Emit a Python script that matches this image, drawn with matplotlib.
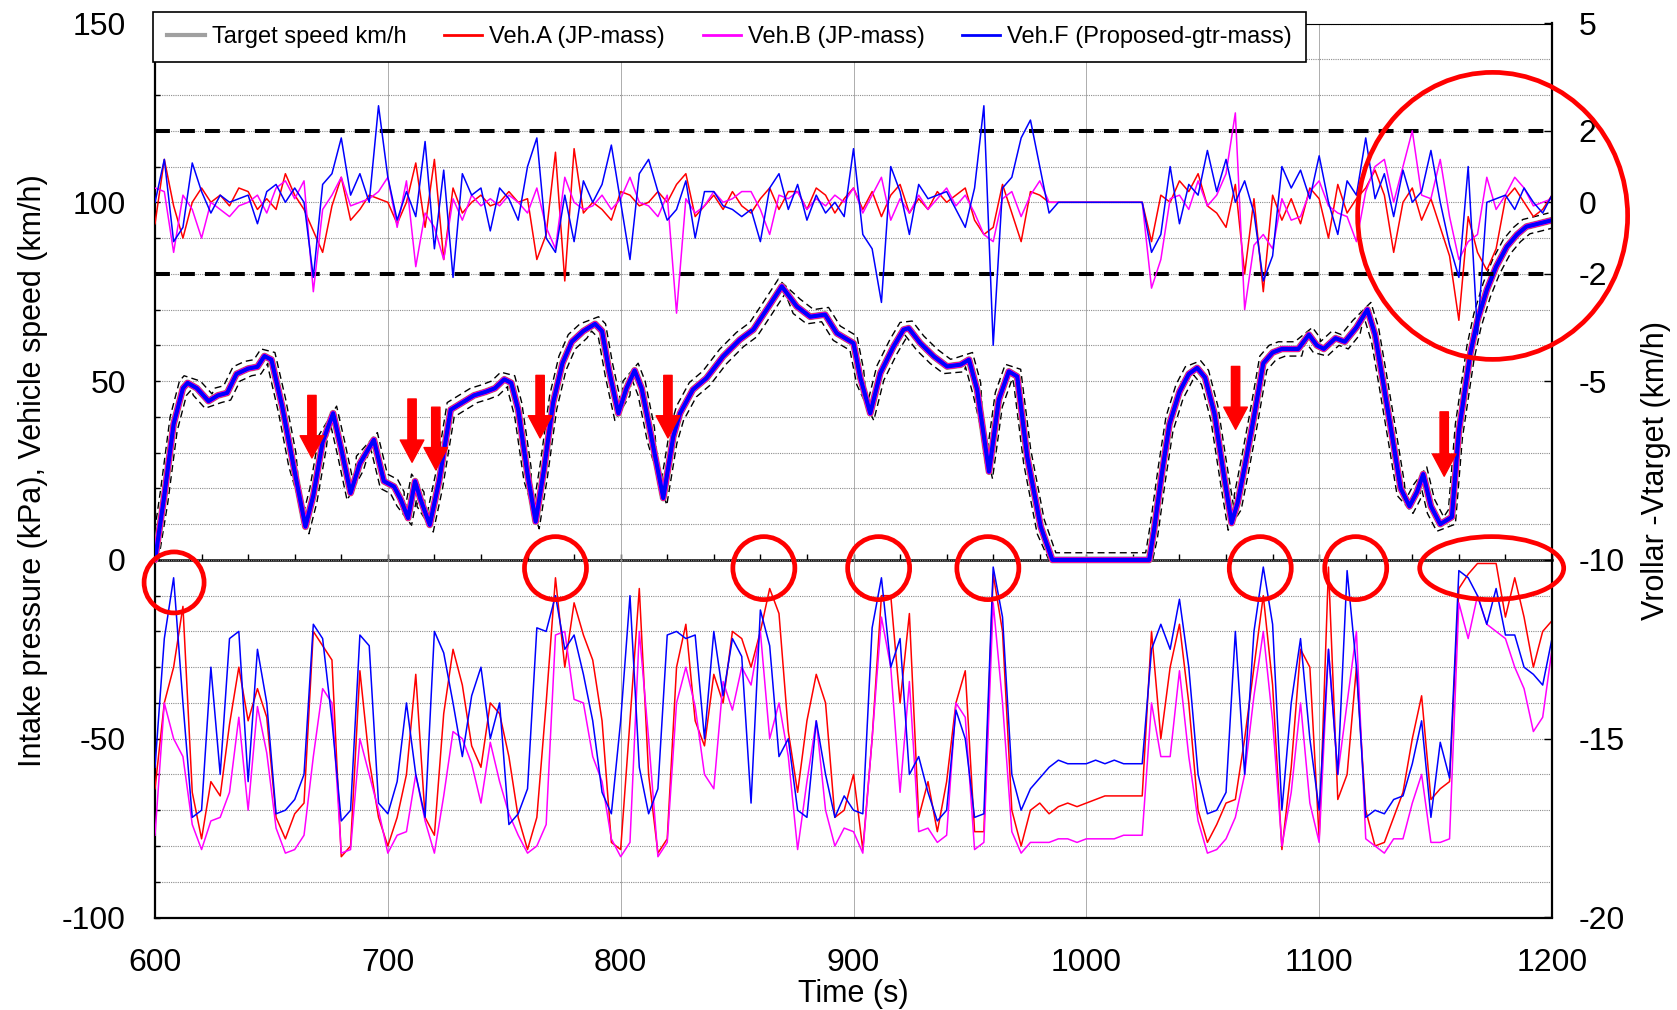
import numpy as np
import matplotlib
matplotlib.use('Agg')
import matplotlib.pyplot as plt
from matplotlib.lines import Line2D
from matplotlib.patches import Ellipse, FancyArrowPatch
from matplotlib.transforms import ScaledTranslation

plt.rcParams['font.family'] = ['Liberation Sans', 'DejaVu Sans']
plt.rcParams['axes.unicode_minus'] = False

# time base of the noisy signals (4 s steps, 600..1200)
t4 = np.arange(600, 1201, 4)

# target speed (km/h), read at the turning points of the trace
speed_t = [600, 604, 608, 612, 614, 618, 623, 627, 631, 635, 640, 644, 647, 650, 654.6, 659,
           664.6, 668, 672, 676.5, 680, 684, 688, 694, 698.3, 702.7, 705.5, 708.7, 711.7, 714,
           718, 722, 727, 732, 737, 742, 746, 750, 753, 756, 760, 763.5, 767, 771, 775, 779,
           784, 789, 792, 795, 799, 802.5, 806, 809, 813, 818.3, 822.6, 825.5, 831, 836.8, 844,
           851.2, 857, 862.7, 869.2, 875.6, 881.4, 887.8, 892.8, 900, 902.9, 907.2, 911.5, 917.2,
           921.5, 923.7, 928.7, 934.5, 940.2, 946, 949.6, 953.1, 958.2, 962.4, 966.7, 970.3,
           974.6, 980.4, 985.4, 1027, 1029, 1032.4, 1035.7, 1040, 1044, 1047.6, 1051, 1055, 1059,
           1062.4, 1065, 1068, 1072, 1076, 1080, 1084, 1088, 1091, 1095.6, 1099, 1102, 1107,
           1111, 1116, 1120.7, 1124, 1127.4, 1132, 1135, 1138.8, 1142, 1144.7, 1148, 1152, 1157,
           1160, 1165, 1168, 1172, 1176, 1180.6, 1185, 1189, 1194, 1200]
speed_v = [0, 18, 38, 48, 49.5, 48, 44.4, 46, 46.7, 52, 53.5, 54, 57, 56, 43, 28,
           9.3, 18, 33, 41, 31, 18.7, 27, 33.6, 22, 20.5, 17, 11.7, 22, 17,
           9.8, 22, 42, 44, 46, 47, 48, 50.5, 49.5, 42, 24, 10.7, 25, 44, 55, 61,
           64, 66, 64, 53, 41, 48, 53, 48, 35, 17.3, 34.5, 41, 47.6, 50.8, 56.9,
           61.6, 64.4, 70, 76.5, 70.9, 68, 68.6, 63.4, 60.6, 51, 41, 52.2, 59.7,
           64.4, 64.8, 60.6, 56.9, 54.1, 54.6, 56, 47.6, 24.7, 44.8, 52.7, 51.3,
           28.9, 9.3, 0, 0, 8, 24, 38, 47, 52, 53.7, 51, 41, 24,
           10.3, 16, 26, 40, 55, 58, 59, 59, 59, 63, 60, 59, 62,
           61, 65, 70, 63, 50, 32, 20, 15, 19, 24, 15, 10, 12,
           36, 58, 67, 75.5, 82, 87.6, 91, 93.2, 94, 95]

# Vroller - Vtarget (km/h), right axis
dev_a = [-0.6, 1.2, -0.1, -1.0, 0.0, 0.4, 0.0, 0.2, -0.1, 0.4,
         0.3, -0.2, 0.1, -0.2, 0.8, 0.2, -0.2, -0.8, -1.4, -0.1,
         0.7, -0.5, -0.2, 0.2, 0.1, 0.0, -0.6, 0.0, 1.1, -0.7,
         1.2, -1.6, 0.4, -0.3, 0.0, 0.2, -0.1, 0.0, 0.3, 0.0,
         0.1, -1.6, -0.9, 1.4, -2.2, 1.5, -0.3, 0.0, -0.2, -0.5,
         0.3, 0.2, -0.1, 0.0, 0.3, 0.0, 0.5, 0.8, -0.4, -0.1,
         0.2, -0.2, 0.3, -0.1, -0.3, 0.1, 0.4, -0.2, 0.3, 0.3,
         -0.2, 0.4, 0.2, -0.3, 0.1, 0.4, -0.2, 0.3, -0.4, 0.2,
         0.5, -0.3, 0.1, -0.2, 0.3, 0.0, 0.2, 0.4, -0.5, -0.9,
         -0.7, 0.5, -0.3, -1.1, 0.3, 0.2, 0.0, 0.0, 0.0, 0.0,
         0.0, 0.0, 0.0, 0.0, 0.0, 0.0, 0.0, -1.1, 0.2, 0.0,
         0.6, 0.3, 0.8, -0.1, -0.3, -0.7, 0.5, -2.0, 0.1, -2.5,
         0.2, -0.5, 0.1, -0.6, 0.4, 0.1, -1.0, 0.5, -0.3, 0.1,
         0.4, 0.9, 0.2, -1.4, 0.0, 0.4, -0.5, 0.1, -0.7, -1.5,
         -3.3, -0.4, -1.4, -1.9, -1.3, 0.1, 0.4, 0.0, -0.4, -0.2,
         0.2]
dev_b = [0.4, 0.3, -1.4, 0.2, -0.2, -1.0, 0.0, -0.2, -0.4, -0.1,
         0.0, 0.2, -0.3, 0.4, 0.6, 0.1, 0.6, -2.5, -0.2, 0.2,
         0.7, -0.1, 0.0, 0.1, 0.3, 0.7, -0.7, 0.6, -1.8, -0.3,
         -0.7, -1.6, 0.1, -0.5, 0.2, -0.1, 0.1, -0.1, 0.2, 0.0,
         -0.3, 0.4, -0.7, -1.3, 0.7, 0.0, -0.2, -0.1, 0.2, -0.2,
         0.1, 0.7, 0.0, -0.1, -0.4, 0.2, -3.1, 0.1, -0.3, -0.1,
         0.3, 0.0, 0.1, 0.3, 0.3, -0.2, -0.9, 0.2, 0.1, 0.3,
         -0.2, 0.1, -0.1, 0.2, 0.0, 0.4, -0.3, 0.2, 0.7, -0.5,
         0.1, -0.3, 0.2, -0.2, 0.1, 0.4, -0.1, 0.2, -0.3, -0.9,
         -1.1, 0.1, 0.3, -0.4, 0.2, 0.6, 0.0, 0.0, 0.0, 0.0,
         0.0, 0.0, 0.0, 0.0, 0.0, 0.0, 0.0, -2.4, -1.6, 0.1,
         0.2, -0.2, 0.6, -0.1, 0.2, 0.8, 2.5, -3.0, -1.2, -0.9,
         -1.3, 0.1, -0.5, -0.4, 0.3, 0.6, -0.1, -0.3, -0.4, -1.1,
         0.3, 1.0, 1.2, 0.0, 1.0, 2.0, 0.2, 0.1, 1.2, -0.4,
         -1.6, -1.1, -0.9, 0.7, -0.2, 0.2, 0.7, 0.4, -0.1, 0.0,
         0.1]
dev_f = [0.0, 1.2, -1.1, -0.7, 1.1, 0.3, -0.3, 0.2, 0.0, 0.1,
         0.2, -0.6, 0.3, 0.5, 0.0, 0.4, 0.0, -2.1, 0.5, 0.8,
         1.8, 0.2, 0.8, 0.0, 2.7, 0.7, -0.5, 0.3, -0.4, 1.7,
         -1.3, 0.9, -2.1, 0.8, 0.2, 0.4, -0.8, 0.4, 0.1, -0.5,
         1.0, 1.8, -1.0, -1.4, 0.2, -1.1, 0.6, 0.0, 0.5, 1.6,
         0.0, -1.6, 0.8, 1.2, 0.3, -0.5, -0.2, 0.6, -1.0, 0.3,
         0.3, -0.1, -0.2, -0.4, -0.2, -1.1, 0.4, 0.8, -0.2, 0.5,
         -0.5, 0.2, -0.3, 0.0, -0.4, 1.5, -0.9, -1.3, -2.8, 1.0,
         0.3, -0.9, 0.5, 0.1, 0.2, 0.3, -0.2, -0.7, 0.4, 2.7,
         -4.0, 0.4, 0.7, 1.8, 2.3, 1.0, -0.3, 0.0, 0.0, 0.0,
         0.0, 0.0, 0.0, 0.0, 0.0, 0.0, 0.0, -1.4, -0.9, 1.0,
         -0.6, 0.5, 0.2, 1.45, 0.3, 1.2, 0.0, 0.6, -0.3, -2.2,
         -1.5, 1.0, 0.4, 0.9, 0.1, 1.3, 0.0, -0.9, 0.6, 0.2,
         1.8, 0.1, 0.8, -0.4, 0.9, 0.0, 0.3, 1.45, 0.0, -1.2,
         -2.1, 1.0, -3.7, 0.0, 0.1, 0.2, -0.2, 0.4, 0.0, -0.3,
         0.2]

# intake pressure (kPa), left axis
press_a = [-64, -40, -30, -13, -65, -78, -62, -66, -46, -30,
           -45, -36, -44, -72, -78, -71, -68, -20, -24, -28,
           -83, -80, -31, -56, -72, -80, -72, -60, -32, -72,
           -77, -43, -25, -35, -52, -58, -40, -43, -55, -72,
           -81, -72, -40, -5, -30, -12, -21, -28, -45, -79,
           -81, -45, -8, -60, -82, -78, -30, -18, -45, -52,
           -32, -40, -20, -22, -30, -20, -8, -15, -48, -65,
           -45, -32, -40, -72, -70, -60, -81, -50, -10, -10,
           -40, -15, -72, -62, -76, -62, -40, -31, -76, -76,
           -4, -20, -70, -80, -70, -68, -71, -69, -68, -69,
           -68, -67, -66, -66, -66, -66, -66, -20, -50, -30,
           -18, -40, -70, -79, -74, -68, -67, -50, -30, -10,
           -35, -81, -58, -25, -30, -78, -2, -67, -60, -30,
           -70, -80, -79, -72, -65, -50, -38, -67, -64, -62,
           -8, -4, -1, -1, -1, -16, -5, -16, -30, -20,
           -17]
press_b = [-77, -40, -50, -55, -74, -81, -73, -72, -65, -44,
           -70, -41, -54, -75, -82, -81, -77, -55, -36, -40,
           -82, -81, -50, -60, -70, -82, -77, -76, -60, -73,
           -82, -66, -48, -50, -57, -68, -51, -62, -71, -77,
           -82, -80, -74, -21, -20, -39, -40, -55, -62, -78,
           -83, -79, -20, -50, -83, -79, -40, -30, -41, -60,
           -64, -34, -42, -30, -35, -20, -50, -40, -55, -81,
           -62, -45, -70, -80, -75, -76, -82, -50, -16, -30,
           -65, -34, -76, -75, -79, -77, -40, -44, -81, -79,
           -12, -40, -76, -82, -79, -79, -79, -78, -78, -79,
           -78, -78, -78, -78, -77, -77, -77, -40, -55, -55,
           -31, -55, -73, -82, -81, -78, -72, -60, -38, -20,
           -45, -80, -65, -40, -68, -79, -25, -60, -40, -20,
           -78, -80, -82, -78, -78, -68, -60, -79, -79, -78,
           -12, -22, -10, -18, -20, -22, -30, -36, -48, -44,
           -25]
press_f = [-58, -22, -5, -40, -72, -70, -30, -60, -22, -20,
           -62, -25, -40, -71, -70, -67, -60, -18, -22, -45,
           -73, -70, -21, -24, -68, -71, -62, -40, -60, -72,
           -20, -26, -40, -55, -38, -30, -50, -40, -74, -71,
           -64, -19, -20, -10, -25, -21, -32, -45, -65, -71,
           -45, -10, -58, -71, -64, -21, -20, -22, -21, -50,
           -20, -38, -22, -27, -68, -14, -24, -55, -50, -70,
           -72, -45, -60, -72, -66, -70, -71, -19, -5, -30,
           -22, -60, -55, -65, -73, -70, -42, -50, -72, -71,
           -2, -16, -60, -70, -64, -61, -58, -56, -57, -57,
           -57, -56, -57, -56, -57, -57, -57, -25, -18, -25,
           -11, -30, -60, -71, -70, -65, -20, -60, -20, -2,
           -18, -70, -40, -22, -50, -70, -25, -60, -3, -30,
           -72, -70, -71, -67, -66, -57, -45, -72, -51, -61,
           -3, -5, -10, -18, -8, -21, -21, -30, -32, -35,
           -22]

labels = ['Target speed km/h', 'Veh.A (JP-mass)', 'Veh.B (JP-mass)', 'Veh.F (Proposed-gtr-mass)']
colors = ['#a0a0a0', '#ff0000', '#ff00ff', '#0000ff']

# red annotation arrows (time, top, tip) and circles (time, value, w px, h px)
arrow_t = [667.4, 710.4, 720.6, 765.4, 820.3, 1064.1, 1153.7]
arrow_top = [46, 45, 42.7, 51.6, 51.6, 54.1, 41.4]
arrow_tip = [28.5, 27.3, 25.2, 34.1, 34.1, 36.5, 23.4]
circ_t = [608.2, 772.0, 861.5, 910.8, 957.7, 1074.7, 1115.7, 1174.1, 1174.5]
circ_v = [-6.3, -2.3, -2.3, -2.3, -2.3, -2.3, -2.3, -2.3, 96.2]
circ_w = [60, 62, 62, 62, 62, 62, 62, 144, 270]
circ_h = [61, 63, 63, 63, 63, 63, 63, 63, 287]

fig = plt.figure(figsize=(16.77, 10.10), dpi=100)
ax = fig.add_axes([155 / 1677, 1 - 917.5 / 1010, 1397 / 1677, 894 / 1010])
ax2 = ax.twinx()

ax.set_xlim(600, 1200)
ax.set_ylim(-100, 150)
ax2.set_ylim(-20, 5)

# speed band: +-2 km/h with a time tolerance
sv = np.array(speed_v)
st = np.array(speed_t, dtype=float)
slope = np.sign(np.gradient(sv, st))
ax.plot(st - 1.5 * slope, sv + 2, color='k', lw=1.0, ls=(0, (5, 3)), zorder=2)
ax.plot(st + 1.5 * slope, np.clip(sv - 2, 0, None), color='k', lw=1.0, ls=(0, (5, 3)), zorder=2)

for c, w in zip(colors, [5.0, 4.2, 3.8, 3.0]):
    ax.plot(speed_t, speed_v, color=c, lw=w, solid_capstyle='round', zorder=3)

for c, p in zip(colors[1:], [press_a, press_b, press_f]):
    ax.plot(t4, p, color=c, lw=1.1, zorder=3)

ax2.axhline(2, color='k', lw=2.9, ls=(0, (3.7, 2.5)), zorder=1.5)
ax2.axhline(-2, color='k', lw=2.9, ls=(0, (3.7, 2.5)), zorder=1.5)
for c, d in zip(colors[1:], [dev_a, dev_b, dev_f]):
    ax2.plot(t4, d, color=c, lw=1.1, zorder=2)

# grid and axes styling
ax.set_xticks(range(600, 1201, 100))
ax.set_yticks(range(-100, 151, 50))
ax.set_yticks(range(-100, 151, 10), minor=True)
ax.grid(axis='y', which='both', color='#8c8c8c', ls=(0, (1, 1)), lw=0.8)
ax.grid(axis='x', which='major', color='#a0a0a0', ls='-', lw=0.6)
ax.set_axisbelow(True)
ax.tick_params(axis='y', which='both', direction='in', length=3.5, width=1, labelsize=23, pad=21)
ax.tick_params(axis='x', which='both', length=0, labelsize=23, pad=22)
ax2.set_yticks([5, 2, 0, -2, -5, -10, -15, -20])
ax2.tick_params(axis='y', direction='in', length=6, width=1, labelsize=23, pad=19)

for s in ['left', 'bottom']:
    ax.spines[s].set_linewidth(1.6)
ax.spines['top'].set_linewidth(0.8)
ax.spines['right'].set_visible(False)
for s in ['left', 'top', 'bottom']:
    ax2.spines[s].set_visible(False)
ax2.spines['right'].set_linewidth(1.6)

# axis line at zero speed / pressure with small ticks
zero_loc = (0 - ax.get_ylim()[0]) / (ax.get_ylim()[1] - ax.get_ylim()[0])
sec = ax.secondary_xaxis(zero_loc)
sec.set_xticks(range(600, 1201, 20))
sec.tick_params(direction='in', length=4, width=1, labelbottom=False, labeltop=False)
for s in sec.spines.values():
    s.set_linewidth(1.8)

ax.set_ylabel('Intake pressure (kPa), Vehicle speed (km/h)', fontsize=22)
ax.yaxis.set_label_coords(-0.0768, 0.5)
ax2.set_ylabel('Vrollar -Vtarget (km/h)', fontsize=22)
ax2.yaxis.set_label_coords(1.0634, 0.5)
ax.set_xlabel('Time (s)', fontsize=22)
ax.xaxis.set_label_coords(0.5, -0.069)

# red highlights
for t, top, tip in zip(arrow_t, arrow_top, arrow_tip):
    ax2.add_patch(FancyArrowPatch((t, top), (t, tip), transform=ax.transData,
                                  arrowstyle='simple,head_length=0.8,head_width=0.85,tail_width=0.3',
                                  mutation_scale=20, color='#ff0000', shrinkA=0, shrinkB=0,
                                  zorder=5))
for t, v, w, h in zip(circ_t, circ_v, circ_w, circ_h):
    tr = fig.dpi_scale_trans + ScaledTranslation(t, v, ax.transData)
    ax2.add_patch(Ellipse((0, 0), w / 100, h / 100, transform=tr, fill=False,
                          ec='#ff0000', lw=3.4, clip_on=False, zorder=5))

handles = [Line2D([], [], color=c, lw=w) for c, w in zip(colors, [3, 2, 2, 2])]
leg = ax2.legend(handles, labels, loc='upper left', bbox_to_anchor=(-0.0014, 1.0129),
                 ncol=4, fontsize=17, frameon=True, fancybox=False, framealpha=1,
                 edgecolor='k', handlelength=1.6, handletextpad=0.3, columnspacing=1.6,
                 borderpad=0.6, borderaxespad=0)
leg.get_frame().set_linewidth(1.2)
leg.set_zorder(10)

fig.savefig('out.png', dpi=100, facecolor='white')
